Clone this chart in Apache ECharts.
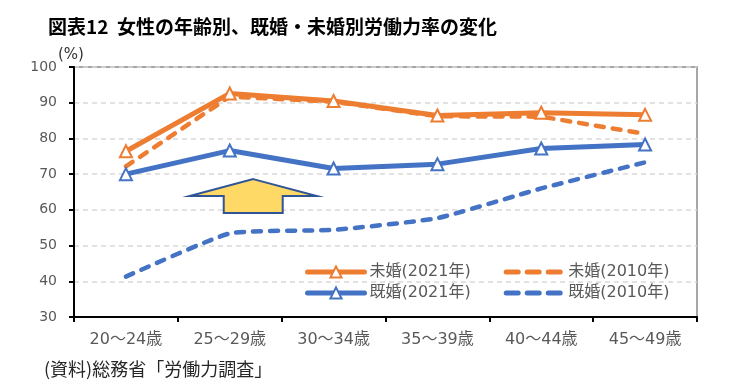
<!DOCTYPE html>
<html>
<head>
<meta charset="utf-8">
<script src="https://cdn.jsdelivr.net/npm/echarts@6/dist/echarts.min.js"></script>
<style>html,body{margin:0;padding:0;background:#fff;}#c{width:750px;height:392px;}</style>
</head>
<body>
<div id="c"></div>
<script>
const categories = ['20～24歳','25～29歳','30～34歳','35～39歳','40～44歳','45～49歳'];
const mikon2021 = [76.4, 92.6, 90.5, 86.4, 87.2, 86.6];
const mikon2010 = [72.2, 91.7, 90.3, 86.2, 86.1, 81.3];
const kikon2021 = [70.0, 76.6, 71.6, 72.8, 77.2, 78.3];
const kikon2010 = [41.3, 53.4, 54.4, 57.7, 66.0, 73.3];
const yTicks = {min: 30, max: 100, interval: 10};
const names = ['未婚(2021年)', '未婚(2010年)', '既婚(2021年)', '既婚(2010年)'];

const FONT = '"Noto Sans CJK JP", sans-serif';
const LFONT = '"DejaVu Sans", "Noto Sans CJK JP", sans-serif';
const ORANGE = '#ED7D31', BLUE = '#4472C4';

const chart = echarts.init(document.getElementById('c'), null, {renderer: 'canvas'});

const dashed = [8, 9];
function solidSeries(name, data, color) {
  return {
    name, type: 'line', data, z: 4,
    symbol: 'triangle', symbolSize: 12,
    itemStyle: {color: '#fff', borderColor: color, borderWidth: 2},
    lineStyle: {color, width: 5, cap: 'round', join: 'round'},
    emphasis: {disabled: true}, animation: false
  };
}
function dashSeries(name, data, color, smooth) {
  return {
    name, type: 'line', data, z: 3, smooth,
    symbol: 'none',
    itemStyle: {color},
    lineStyle: {color, width: 4.5, type: dashed, cap: 'round'},
    emphasis: {disabled: true}, animation: false
  };
}

const legendBase = {
  left: 305, padding: 0, itemWidth: 57, itemHeight: 14, itemGap: 33,
  textStyle: {fontFamily: LFONT, fontSize: 16, color: '#595959', width: 105, padding: [0,0,0,0]},
  selectedMode: false
};
function solidItem(n) { return {name: n, lineStyle: {width: 5, type: 'solid', cap: 'round'}}; }
function dashItem(n) { return {name: n, itemStyle: {opacity: 0}, lineStyle: {width: 5, type: [12, 9], cap: 'round'}}; }

chart.setOption({
  animation: false,
  backgroundColor: '#fff',
  textStyle: {fontFamily: FONT},
  grid: {left: 74, right: 53, top: 67, bottom: 75, show: true, borderColor: '#A6A6A6', borderWidth: 2, backgroundColor: 'transparent'},
  legend: [
    Object.assign({}, legendBase, {top: 264, data: [solidItem(names[0]), dashItem(names[1])]}),
    Object.assign({}, legendBase, {top: 285, data: [solidItem(names[2]), dashItem(names[3])]})
  ],
  xAxis: {
    type: 'category', data: categories, boundaryGap: true,
    axisLine: {lineStyle: {color: '#000', width: 2}},
    axisTick: {show: true, length: 5, lineStyle: {color: '#000', width: 2}},
    axisLabel: {color: '#595959', fontSize: 16, margin: 15, fontFamily: LFONT},
    splitLine: {show: false}
  },
  yAxis: {
    type: 'value', min: yTicks.min, max: yTicks.max, interval: yTicks.interval,
    axisLine: {show: true, lineStyle: {color: '#000', width: 2}},
    axisTick: {show: true, length: 5, lineStyle: {color: '#000', width: 2}},
    axisLabel: {color: '#595959', fontSize: 14, margin: 17, fontFamily: LFONT},
    splitLine: {show: true, lineStyle: {color: '#D9D9D9', width: 1.5, type: [5, 4]}}
  },
  series: [
    dashSeries(names[1], mikon2010, ORANGE, false),
    dashSeries(names[3], kikon2010, BLUE, 0.15),
    solidSeries(names[0], mikon2021, ORANGE),
    solidSeries(names[2], kikon2021, BLUE)
  ]
});

// Annotation arrow in data units (category index, value)
const arrowShape = [[1.226, 68.6], [1.837, 63.9], [1.51, 63.9], [1.51, 59.1], [0.942, 59.1], [0.942, 63.9], [0.615, 63.9]];
function toPx(pt) {
  const x0 = chart.convertToPixel({xAxisIndex: 0}, 0);
  const x1 = chart.convertToPixel({xAxisIndex: 0}, 1);
  const y = chart.convertToPixel({yAxisIndex: 0}, pt[1]);
  return [x0 + (x1 - x0) * pt[0], y];
}

chart.setOption({
  graphic: [
    {type: 'text', left: 48, top: 17, style: {text: '図表12  女性の年齢別、既婚・未婚別労働力率の変化', fontFamily: FONT, fontSize: 19, fontWeight: 'bold', fill: '#000'}},
    {type: 'text', left: 58, top: 48, style: {text: '(%)', fontFamily: LFONT, fontSize: 15, fill: '#333'}},
    {type: 'text', left: 44, top: 360, style: {text: '(資料)総務省「労働力調査」', fontFamily: FONT, fontSize: 18, fill: '#262626'}},
    {type: 'polygon', z: 10, shape: {points: arrowShape.map(toPx)}, style: {fill: '#FFD966', stroke: '#2F5597', lineWidth: 2}}
  ]
});
</script>
</body>
</html>
